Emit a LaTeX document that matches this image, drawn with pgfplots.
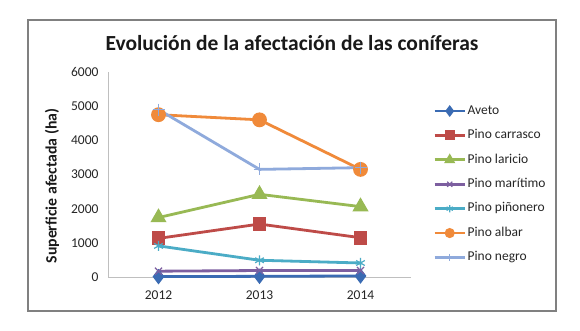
\documentclass[border=0pt]{standalone}
\usepackage{fontspec}
\setmainfont{Carlito}
\usepackage{pgfplots}
\pgfplotsset{compat=1.18}
\definecolor{cAveto}{HTML}{3A6BB3}
\definecolor{cCarr}{HTML}{BE4B48}
\definecolor{cLar}{HTML}{98B954}
\definecolor{cMar}{HTML}{7D5FA0}
\definecolor{cPin}{HTML}{4BACC6}
\definecolor{cAlb}{HTML}{F08A3A}
\definecolor{cNeg}{HTML}{8FAADC}
\definecolor{axgray}{HTML}{BFBFBF}
\begin{document}
\begin{tikzpicture}
\fill[white] (0pt,0pt) rectangle (580pt,330pt);
\draw[color=gray, line width=1.5pt] (28pt,19pt) rectangle (556pt,310pt);
\node[font=\fontsize{21.5}{24}\selectfont\bfseries, text=black!90] at (292pt,287pt) {Evolución de la afectación de las coníferas};
\begin{axis}[
  at={(108pt,53pt)}, anchor=south west,
  scale only axis, width=303pt, height=205pt,
  xmin=-0.5, xmax=2.5, ymin=0, ymax=6000,
  xtick={0,1,2}, xticklabels={2012,2013,2014},
  ytick={0,1000,2000,3000,4000,5000,6000},
  axis x line=bottom, axis y line=left,
  axis line style={draw=axgray, line width=1pt, -},
  major tick length=0pt, tick style={draw=none},
  scaled y ticks=false,
  /pgf/number format/assume math mode=true,
  /pgf/number format/1000 sep={},
  ticklabel style={font=\fontsize{13.5}{15}\selectfont, text=black!85},
  yticklabel style={xshift=-6pt},
  xticklabel style={yshift=-10pt},
  ylabel={Superficie afectada (ha)},
  every axis y label/.style={at={(axis description cs:-0.185,0.444)}, rotate=90, anchor=center, font=\fontsize{15.8}{18}\selectfont\bfseries, text=black!90},
  legend style={at={(axis description cs:1.073,0.841)}, anchor=north west, draw=none, fill=none, inner sep=0pt, row sep=11.9pt,
    font=\fontsize{13.5}{15}\selectfont, text=black!85,
    nodes={inner ysep=0pt, inner xsep=1.5pt, text height=9.5pt, text depth=3pt}},
  legend cell align=left,
  legend image code/.code={\draw[mark repeat=2,mark phase=2] plot coordinates {(0pt,0pt) (15pt,0pt) (30pt,0pt)};},
  legend image post style={mark size=3.6pt},
  every axis plot/.append style={line width=2.8pt},
]
\addplot[cAveto, mark=diamond*, mark size=5.5pt, mark options={solid}] coordinates {(0,10) (1,20) (2,30)};
\addlegendentry{Aveto}
\addplot[cCarr, mark=square*, mark size=5.5pt] coordinates {(0,1130) (1,1550) (2,1150)};
\addlegendentry{Pino carrasco}
\addplot[cLar, mark=triangle*, mark size=6.5pt] coordinates {(0,1740) (1,2420) (2,2060)};
\addlegendentry{Pino laricio}
\addplot[cMar, mark=x, mark size=5pt, mark options={line width=1.2pt}] coordinates {(0,170) (1,190) (2,190)};
\addlegendentry{Pino marítimo}
\addplot[cPin, mark=asterisk, mark size=5pt, mark options={line width=1.2pt}] coordinates {(0,910) (1,490) (2,410)};
\addlegendentry{Pino piñonero}
\addplot[cAlb, mark=*, mark size=6pt] coordinates {(0,4750) (1,4600) (2,3150)};
\addlegendentry{Pino albar}
\addplot[cNeg, mark=+, mark size=6pt, mark options={line width=1.2pt}] coordinates {(0,4900) (1,3150) (2,3200)};
\addlegendentry{Pino negro}
\end{axis}
\end{tikzpicture}
\end{document}
